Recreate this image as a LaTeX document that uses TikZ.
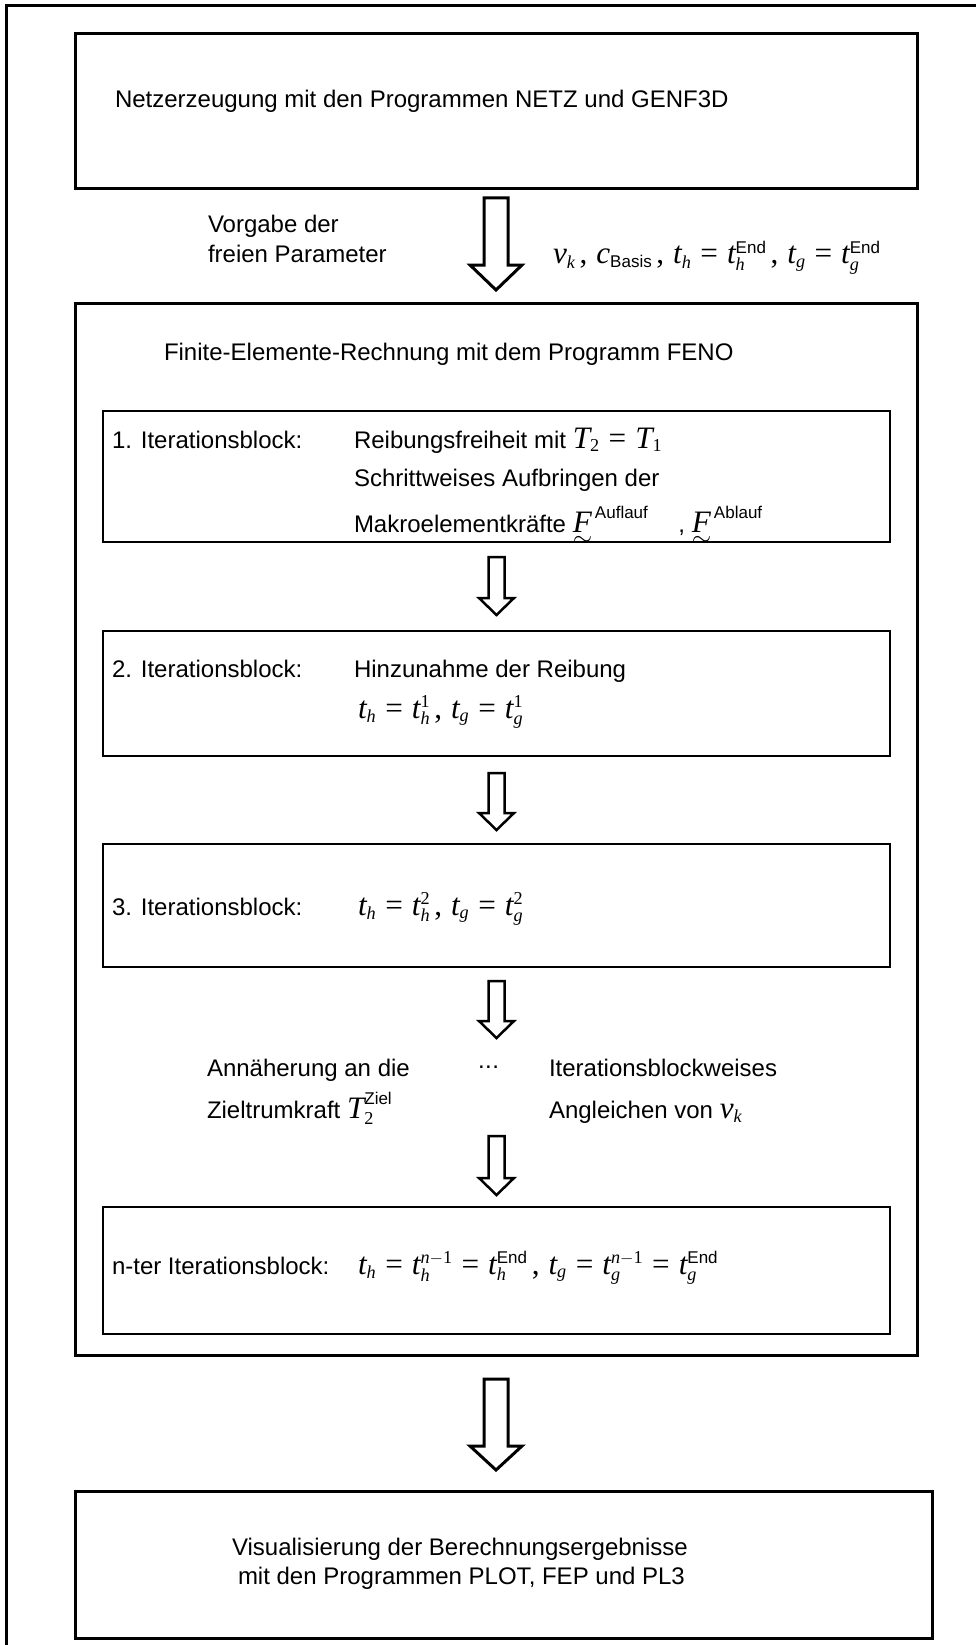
\documentclass[tikz,border=0pt]{standalone}
\usepackage{amsmath}
\usepackage{fontspec}
\setmainfont{Liberation Sans}
\newfontfamily\serifmath{Liberation Serif}[Scale=1.3]
\usetikzlibrary{calc}

% formula pieces: serif italic letters, smaller script letters and digits,
% sans labels in sub/superscripts
\newcommand\mv[1]{\text{\serifmath\itshape #1}}
\newcommand\mn[1]{\text{\serifmath #1}}
\newcommand\sv[1]{\text{\fontsize{14}{14}\selectfont\serifmath\itshape #1}}
\newcommand\sn[1]{\text{\fontsize{14}{14}\selectfont\serifmath #1}}
\newcommand\ssf[1]{\text{\fontsize{17}{17}\selectfont #1}}
\newcommand\eq{\mathrel{\mn{=}}}
\newcommand\cma{\,\mn{,}\;}
\newcommand\fml[1]{$\thickmuskip=6.5mu #1$}
\newcommand\vecF{\mbox{\ooalign{\hfil$\mv{F}$\hfil\cr\hfil\raisebox{-13pt}{$\sim$}\hfil\cr}}}

\tikzset{
  pics/blockarrow/.style n args={4}{code={
    % #1 length, #2 half shaft width, #3 half head width, #4 head length
    \draw[fill=white, line join=miter]
      (-#2,0) -- (-#2,#1-#4) -- (-#3,#1-#4) -- (0,#1) -- (#3,#1-#4) -- (#2,#1-#4) -- (#2,0) -- cycle;
  }},
}

\begin{document}
\begin{tikzpicture}[x=1pt, y=-1pt,
  every node/.style={font=\fontsize{24}{29}\selectfont, inner sep=0pt, outer sep=0pt},
  bigbox/.style={draw, line width=3pt, rectangle, anchor=north west},
  itbox/.style={draw, line width=2pt, rectangle, anchor=north west},
  txt/.style={anchor=base west},
  bigarrow/.style={line width=3pt},
  smallarrow/.style={line width=2.5pt},
]
\useasboundingbox (0,0) rectangle (976,1645);

% outer frame
\draw[line width=3pt, line join=miter] (6,1645) -- (6,6) -- (976,6);

% mesh generation
\node[bigbox, minimum width=842, minimum height=155] (netz) at (75,34) {};
\node[txt] (netzT) at (115,108) {Netzerzeugung mit den Programmen NETZ und GENF3D};

\path (netz.south) ++(0,9) pic[bigarrow] {blockarrow={92}{12}{26}{25}};
\node[txt] (vorg1) at (208,233) {Vorgabe der};
\node[txt] (vorg2) at (208,262) {freien Parameter};
\node[txt] (param) at (553,264) {\fml{\mv{v}_{\sv{k}}\cma \mv{c}_{\ssf{Basis}}\cma \mv{t}_{\sv{h}} \eq \mv{t}_{\sv{h}}^{\ssf{End}}\cma \mv{t}_{\sv{g}} \eq \mv{t}_{\sv{g}}^{\ssf{End}}}};

% finite element computation
\node[bigbox, minimum width=842, minimum height=1052] (feno) at (75,303) {};
\node[txt] (fenoT) at (164,360) {Finite-Elemente-Rechnung mit dem Programm FENO};

% block 1
\node[itbox, minimum width=787, minimum height=131] (b1) at (103,411) {};
\node[txt] (b1a) at (112,448) {1. Iterationsblock:};
\node[txt] (b1b) at (354,448) {Reibungsfreiheit mit \fml{\mv{T}_{\sn{2}} \eq \mv{T}_{\sn{1}}}};
\node[txt] (b1c) at (354,486) {Schrittweises Aufbringen der};
\begin{scope}
  \clip (b1.north west) rectangle (b1.south east);
  \node[txt] (b1d) at (354,532) {Makroelementkräfte \fml{\vecF^{\,\ssf{Auflauf}}}\hspace{30pt}, \fml{\vecF^{\,\ssf{Ablauf}}}};
\end{scope}
\draw[line width=2pt] (b1.south west) -- (b1.south east);

\path (b1.south) ++(0,15) pic[smallarrow] {blockarrow={58}{8}{17.5}{17}};

% block 2
\node[itbox, minimum width=787, minimum height=125] (b2) at (103,631) {};
\node[txt] (b2a) at (112,677) {2. Iterationsblock:};
\node[txt] (b2b) at (354,677) {Hinzunahme der Reibung};
\node[txt] (b2c) at (358,718) {\fml{\mv{t}_{\sv{h}} \eq \mv{t}_{\sv{h}}^{\sn{1}}\cma \mv{t}_{\sv{g}} \eq \mv{t}_{\sv{g}}^{\sn{1}}}};

\path (b2.south) ++(0,17) pic[smallarrow] {blockarrow={57}{8}{17.5}{17}};

% block 3
\node[itbox, minimum width=787, minimum height=123] (b3) at (103,844) {};
\node[txt] (b3a) at (112,915) {3. Iterationsblock:};
\node[txt] (b3b) at (358,915) {\fml{\mv{t}_{\sv{h}} \eq \mv{t}_{\sv{h}}^{\sn{2}}\cma \mv{t}_{\sv{g}} \eq \mv{t}_{\sv{g}}^{\sn{2}}}};

\path (b3.south) ++(0,14) pic[smallarrow] {blockarrow={57}{8}{17.5}{17}};

% intermediate blocks
\node[txt] (mid1) at (207,1076) {Annäherung an die};
\node[txt] (mid2) at (207,1118) {Zieltrumkraft \fml{\mv{T}_{\sn{2}}^{\ssf{Ziel}}}};
\node[txt] (dots) at (478,1076) {\raisebox{8pt}{.\kern0.5pt.\kern0.5pt.}};
\node[txt] (mid3) at (549,1076) {Iterationsblockweises};
\node[txt] (mid4) at (549,1118) {Angleichen von \fml{\mv{v}_{\sv{k}}}};

% block n
\node[itbox, minimum width=787, minimum height=127] (bn) at (103,1207) {};
\path (bn.north) ++(0,-71) pic[smallarrow] {blockarrow={59}{8}{17.5}{17}};
\node[txt] (bna) at (112,1274) {n-ter Iterationsblock:};
\node[txt] (bnb) at (358,1274) {\fml{\mv{t}_{\sv{h}} \eq \mv{t}_{\sv{h}}^{\sv{n}-\sn{1}} \eq \mv{t}_{\sv{h}}^{\ssf{End}}\cma \mv{t}_{\sv{g}} \eq \mv{t}_{\sv{g}}^{\sv{n}-\sn{1}} \eq \mv{t}_{\sv{g}}^{\ssf{End}}}};

\path (feno.south) ++(0,24) pic[bigarrow] {blockarrow={91}{12}{26}{24}};

% visualisation
\node[bigbox, minimum width=857, minimum height=147] (vis) at (75,1491) {};
\node[txt] (vis1) at (232,1555) {Visualisierung der Berechnungsergebnisse};
\node[txt] (vis2) at (238,1584) {mit den Programmen PLOT, FEP und PL3};
\end{tikzpicture}
\end{document}
